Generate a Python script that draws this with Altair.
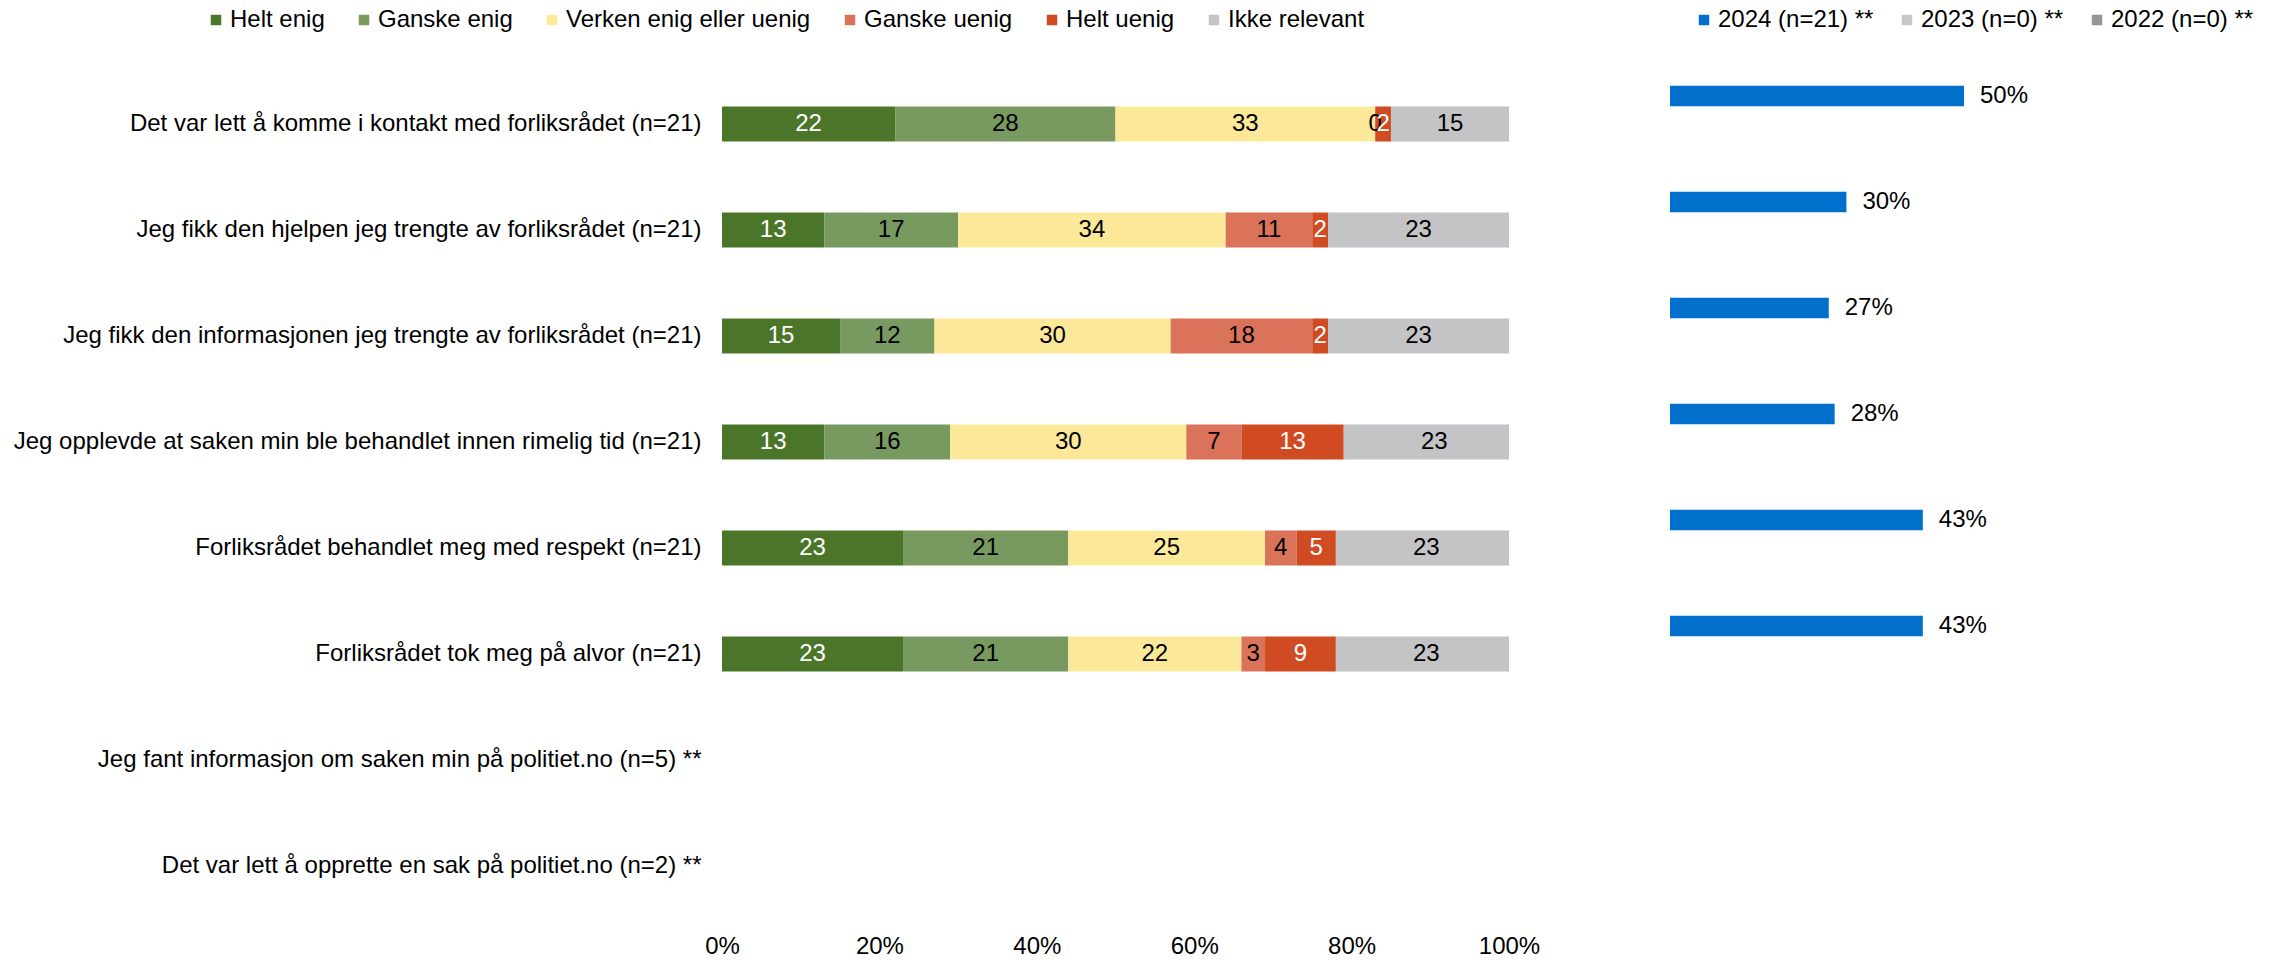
import altair as alt
import pandas as pd

items = [
    "Det var lett å komme i kontakt med forliksrådet (n=21)",
    "Jeg fikk den hjelpen jeg trengte av forliksrådet (n=21)",
    "Jeg fikk den informasjonen jeg trengte av forliksrådet (n=21)",
    "Jeg opplevde at saken min ble behandlet innen rimelig tid (n=21)",
    "Forliksrådet behandlet meg med respekt (n=21)",
    "Forliksrådet tok meg på alvor (n=21)",
    "Jeg fant informasjon om saken min på politiet.no (n=5) **",
    "Det var lett å opprette en sak på politiet.no (n=2) **",
]
categories = ["Helt enig", "Ganske enig", "Verken enig eller uenig",
              "Ganske uenig", "Helt uenig", "Ikke relevant"]
helt_enig = [22, 13, 15, 13, 23, 23]
ganske_enig = [28, 17, 12, 16, 21, 21]
verken = [33, 34, 30, 30, 25, 22]
ganske_uenig = [0, 11, 18, 7, 4, 3]
helt_uenig = [2, 2, 2, 13, 5, 9]
ikke_relevant = [15, 23, 23, 23, 23, 23]
cat_colors = ["#4b7629", "#789a60", "#fbe899", "#db735a", "#d04a22", "#c4c4c6"]

years = ["2024 (n=21) **", "2023 (n=0) **", "2022 (n=0) **"]
year_colors = ["#0070cc", "#c8c8c8", "#959595"]
share_2024 = [50, 30, 27, 28, 43, 43]

FONT = "Liberation Sans"
FS = 24

series = [helt_enig, ganske_enig, verken, ganske_uenig, helt_uenig, ikke_relevant]
rows = []
for ci, (cat, vals) in enumerate(zip(categories, series)):
    for ii, v in enumerate(vals):
        rows.append({"item": items[ii], "category": cat, "order": ci, "value": v})
df_left = pd.DataFrame(rows)

df_right = pd.DataFrame({
    "item": items[:len(share_2024)],
    "year": years[0],
    "share": [v / 100 for v in share_2024],
})

H = 848
y_scale = alt.Scale(domain=items, paddingInner=0, paddingOuter=0)
x_scale = alt.Scale(domain=[0, 100], nice=False)

base = alt.Chart(df_left)
bars = base.mark_bar(size=35, clip=True).encode(
    x=alt.X("value:Q", stack="zero", scale=x_scale,
            axis=alt.Axis(values=[0, 20, 40, 60, 80, 100], labelExpr="datum.value + '%'",
                          title=None, grid=False, domain=False, ticks=False,
                          labelPadding=15, labelFontSize=FS, labelColor="black",
                          labelFlush=False, labelFont=FONT)),
    y=alt.Y("item:N", sort=items, scale=y_scale,
            axis=alt.Axis(title=None, ticks=False, domain=False, labelLimit=1200,
                          labelPadding=21, labelFontSize=FS, labelColor="black",
                          labelFont=FONT)),
    color=alt.Color("category:N", scale=alt.Scale(domain=categories, range=cat_colors),
                    legend=alt.Legend(orient="none", legendX=-518, legendY=-63,
                                      direction="horizontal", title=None,
                                      symbolType="square", symbolSize=110,
                                      symbolStrokeWidth=0, labelFontSize=FS,
                                      labelFont=FONT, labelColor="black",
                                      columnPadding=27, labelOffset=2, labelLimit=600)),
    order=alt.Order("order:Q"),
)
texts = base.transform_window(
    cum="sum(value)", groupby=["item"], sort=[alt.SortField("order")], frame=[None, 0]
).transform_calculate(
    mid="datum.cum - datum.value / 2"
).mark_text(fontSize=FS, font=FONT, baseline="middle", align="center").encode(
    x=alt.X("mid:Q", scale=x_scale),
    y=alt.Y("item:N", sort=items, scale=y_scale),
    text=alt.Text("value:Q"),
    color=alt.condition("datum.category == 'Helt enig' || datum.category == 'Helt uenig'",
                        alt.value("white"), alt.value("black")),
)
left = alt.layer(bars, texts).properties(width=787, height=H)

rbase = alt.Chart(df_right)
rx = alt.Scale(domain=[0, 1], nice=False)
yoff = alt.Scale(domain=years, paddingInner=0.27, paddingOuter=0.53)
rbars = rbase.mark_bar().encode(
    x=alt.X("share:Q", scale=rx, axis=None),
    y=alt.Y("item:N", sort=items, scale=y_scale, axis=None),
    yOffset=alt.YOffset("year:N", scale=yoff),
    color=alt.Color("year:N", scale=alt.Scale(domain=years, range=year_colors),
                    legend=alt.Legend(orient="none", legendX=22, legendY=-63,
                                      direction="horizontal", title=None,
                                      symbolType="square", symbolSize=110,
                                      symbolStrokeWidth=0, labelFontSize=FS,
                                      labelFont=FONT, labelColor="black",
                                      columnPadding=21, labelOffset=2, labelLimit=600)),
)
rtext = rbase.mark_text(align="left", dx=16, baseline="middle", fontSize=FS,
                        font=FONT, color="black").encode(
    x=alt.X("share:Q", scale=rx),
    y=alt.Y("item:N", sort=items, scale=y_scale),
    yOffset=alt.YOffset("year:N", scale=yoff),
    text=alt.Text("share:Q", format=".0%"),
)
right = alt.layer(rbars, rtext).properties(width=588, height=H)

chart = alt.hconcat(left, right, spacing=130).resolve_scale(
    color="independent", y="independent"
).properties(
    padding={"left": 5, "top": 0, "right": 0, "bottom": 0}
).configure(font=FONT).configure_view(strokeWidth=0, stroke="transparent")

chart.save("out.html", embed_options={"renderer": "svg", "actions": False})
